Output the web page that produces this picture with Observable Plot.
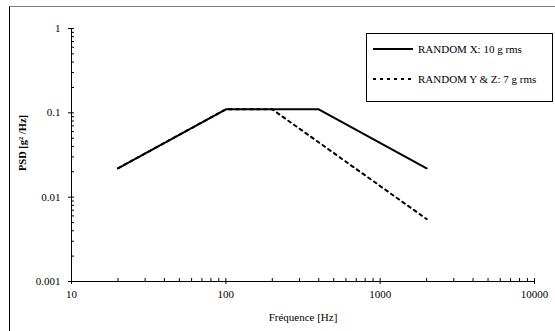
<!DOCTYPE html>
<html>
<head>
<meta charset="utf-8">
<script src="https://cdn.jsdelivr.net/npm/d3@7"></script>
<script src="https://cdn.jsdelivr.net/npm/@observablehq/plot@0.6"></script>
<style>
  html, body { margin: 0; padding: 0; background: #fff; overflow: hidden; }
  #wrap { position: relative; width: 555px; height: 331px; font-family: "Liberation Serif", "Times New Roman", serif; }
  #frame { position: absolute; left: 9px; top: 6px; width: 700px; height: 500px; border-top: 1px solid #808080; border-left: 1px solid #000; }
  #chart { position: absolute; left: 0; top: 0; }
  #legend { position: absolute; left: 366px; top: 33px; width: 185px; height: 67px; border: 1px solid #000; background: #fff; font-size: 11px; color: #000; }
  .row { position: absolute; left: 6px; height: 14px; display: flex; align-items: center; white-space: nowrap; }
  .row svg { margin-right: 5px; }
</style>
</head>
<body>
<div id="wrap">
  <div id="frame"></div>
  <div id="chart"></div>
  <div id="legend"></div>
</div>
<script>
// Data
const seriesNames = ["RANDOM X: 10 g rms", "RANDOM Y & Z: 7 g rms"];
const freqX = [20, 100, 400, 2000];
const psdX = [0.022, 0.11, 0.11, 0.022];
const freqYZ = [20, 100, 200, 2000];
const psdYZ = [0.022, 0.11, 0.11, 0.0055];
const xMajor = [10, 100, 1000, 10000];
const yMajor = [0.001, 0.01, 0.1, 1];
const xMinor = [20, 30, 40, 50, 60, 70, 80, 90, 200, 300, 400, 500, 600, 700, 800, 900, 2000, 3000, 4000, 5000, 6000, 7000, 8000, 9000];
const yMinor = [0.002, 0.003, 0.004, 0.005, 0.006, 0.007, 0.008, 0.009, 0.02, 0.03, 0.04, 0.05, 0.06, 0.07, 0.08, 0.09, 0.2, 0.3, 0.4, 0.5, 0.6, 0.7, 0.8, 0.9];
const xLabel = "Fréquence [Hz]";
const yLabel = "PSD [g² /Hz]";

const dataX = freqX.map((f, i) => ({f, p: psdX[i]}));
const dataYZ = freqYZ.map((f, i) => ({f, p: psdYZ[i]}));

const chart = Plot.plot({
  width: 555,
  height: 331,
  marginLeft: 71,
  marginRight: 21,
  marginTop: 28,
  marginBottom: 50,
  style: {fontFamily: "'Liberation Serif', 'Times New Roman', serif", fontSize: "11px", background: "transparent", color: "#000"},
  x: {type: "log", domain: [10, 10000]},
  y: {type: "log", domain: [0.001, 1]},
  marks: [
    Plot.ruleY([0.001], {stroke: "#000"}),
    Plot.ruleX([10], {stroke: "#000"}),
    Plot.axisX(xMajor, {tickSize: 6, dy: -3, fill: "none", label: null}),
    Plot.axisX(xMinor, {tickSize: 3, dy: -3, fill: "none", label: null}),
    Plot.axisY(yMajor, {tickSize: 6, dx: 3, fill: "none", label: null}),
    Plot.axisY(yMinor, {tickSize: 3, dx: 3, fill: "none", label: null}),
    Plot.axisX(xMajor, {tickSize: 0, tickPadding: 9, stroke: "none", label: null, tickFormat: d => String(d)}),
    Plot.axisY(yMajor, {tickSize: 0, tickPadding: 11, stroke: "none", label: null, tickFormat: d => String(d)}),
    Plot.text([xLabel], {frameAnchor: "bottom", dy: 39, fontSize: 11}),
    Plot.text([yLabel], {frameAnchor: "left", textAnchor: "middle", rotate: -90, dx: -49, dy: -12, fontSize: 10.5, fontWeight: "bold"}),
    Plot.line(dataYZ, {x: "f", y: "p", stroke: "#000", strokeWidth: 2, strokeDasharray: "3,4"}),
    Plot.line(dataX, {x: "f", y: "p", stroke: "#000", strokeWidth: 2})
  ]
});
document.getElementById("chart").appendChild(chart);

const legend = document.getElementById("legend");
const dashes = [null, "3,4"];
const rowTops = [8, 38];
seriesNames.forEach((name, i) => {
  const row = document.createElement("div");
  row.className = "row";
  row.style.top = rowTops[i] + "px";
  row.innerHTML = `<svg width="40" height="4"><line x1="0" y1="2" x2="40" y2="2" stroke="#000" stroke-width="2" ${dashes[i] ? `stroke-dasharray="${dashes[i]}"` : ""}/></svg><span>${name}</span>`;
  legend.appendChild(row);
});
</script>
</body>
</html>
